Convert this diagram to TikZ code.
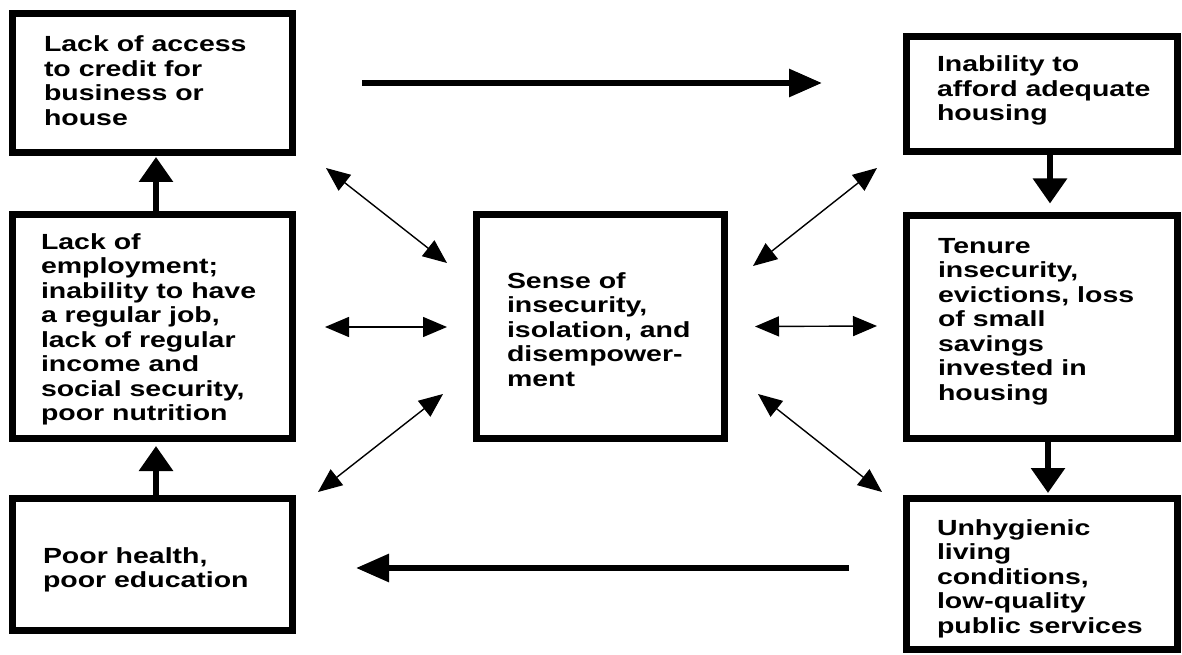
\documentclass[tikz,border=0pt]{standalone}
\usepackage{fontspec}
\setmainfont{Liberation Sans}
\usetikzlibrary{arrows.meta,calc}
% wide, left-aligned block of text whose baseline is its first line
\newcommand{\blocktext}[1]{\scalebox{1.3}[1]{\begin{tabular}[t]{@{}l@{}}#1\end{tabular}}}
\tikzset{
  box/.style={draw, line width=7pt, inner sep=0pt, outer sep=0pt},
  label text/.style={anchor=base west, inner sep=0pt, outer sep=0pt,
    font=\fontsize{21.9}{24.5}\selectfont\bfseries},
  flowh/.style={line width=6pt, -{Triangle[length=33pt,width=27pt]}},
  flowv/.style={line width=6pt, -{Triangle[length=25pt,width=33pt]}},
  link/.style={line width=1.4pt, {Triangle[length=24pt,width=20pt]}-{Triangle[length=24pt,width=20pt]}}
}
\begin{document}
\begin{tikzpicture}[x=1pt,y=-1pt]
\useasboundingbox (0,0) rectangle (1182,655);

% frames
\node[box, minimum width=280pt, minimum height=139pt] (tl) at (152.5,83) {};
\node[box, minimum width=280pt, minimum height=224pt] (ml) at (152.5,326.5) {};
\node[box, minimum width=280pt, minimum height=132pt] (bl) at (152.5,564.5) {};
\node[box, minimum width=248pt, minimum height=224pt] (c) at (600.5,326.5) {};
\node[box, minimum width=271pt, minimum height=115pt] (tr) at (1042,94) {};
\node[box, minimum width=271pt, minimum height=223pt] (mr) at (1042,327) {};
\node[box, minimum width=271pt, minimum height=151pt] (br) at (1042,574) {};

% texts
\node[label text] (tlt) at ($(tl.north west)+(31.5,38.5)$)
  {\blocktext{Lack of access\\to credit for\\business or\\house}};
\node[label text] (mlt) at ($(ml.north west)+(28.5,34.5)$)
  {\blocktext{Lack of\\employment;\\inability to have\\a regular job,\\lack of regular\\income and\\social security,\\poor nutrition}};
\node[label text] (blt) at ($(bl.north west)+(30.5,64.5)$)
  {\blocktext{Poor health,\\poor education}};
\node[label text] (ct) at ($(c.north west)+(30.5,73.5)$)
  {\blocktext{Sense of\\insecurity,\\isolation, and\\disempower-\\ment}};
\node[label text] (trt) at ($(tr.north west)+(30.5,35.5)$)
  {\blocktext{Inability to\\afford adequate\\housing}};
\node[label text] (mrt) at ($(mr.north west)+(31.5,37.5)$)
  {\blocktext{Tenure\\insecurity,\\evictions, loss\\of small\\savings\\invested in\\housing}};
\node[label text] (brt) at ($(br.north west)+(30.5,36.5)$)
  {\blocktext{Unhygienic\\living\\conditions,\\low-quality\\public services}};

% main cycle
\draw[flowh] ($(tl.east)+(69.5,0)$) -- ($(tl.east -| tr.west)+(-84.5,0)$);
\draw[flowv] ($(tr.south)+(8,3.5)$) -- ($(mr.north)+(8,-12)$);
\draw[flowv] ($(mr.south)+(6,3.5)$) -- ($(br.north)+(6,-5.5)$);
\coordinate (bs) at ($(br.west)+(-57.5,-6)$);
\draw[flowh] (bs) -- ($(bs -| bl.east)+(63.5,0)$);
\draw[flowv] ($(bl.north)+(3.5,-3.5)$) -- ($(ml.south)+(3.5,7.5)$);
\draw[flowv] ($(ml.north)+(3.5,-4)$) -- ($(tl.south)+(3.5,4.5)$);

% links with the central box
\draw[link] ($(tl.south east)+(33.5,15.5)$) -- ($(c.north west)+(-29.5,48.5)$);
\draw[link] ($(ml.east)+(32.5,0.5)$) -- ($(c.west)+(-29.5,0.5)$);
\draw[link] ($(bl.north east)+(25.5,-6.5)$) -- ($(c.south west)+(-33.5,-44.5)$);
\draw[link] ($(tr.south west)+(-29.5,16.5)$) -- ($(c.north east)+(28.5,51.5)$);
\draw[link] ($(c.east)+(30.5,0)$) -- ($(mr.west)+(-29.5,-1)$);
\draw[link] ($(c.south east)+(33.5,-44.5)$) -- ($(br.north west)+(-24.5,-6.5)$);
\end{tikzpicture}
\end{document}
